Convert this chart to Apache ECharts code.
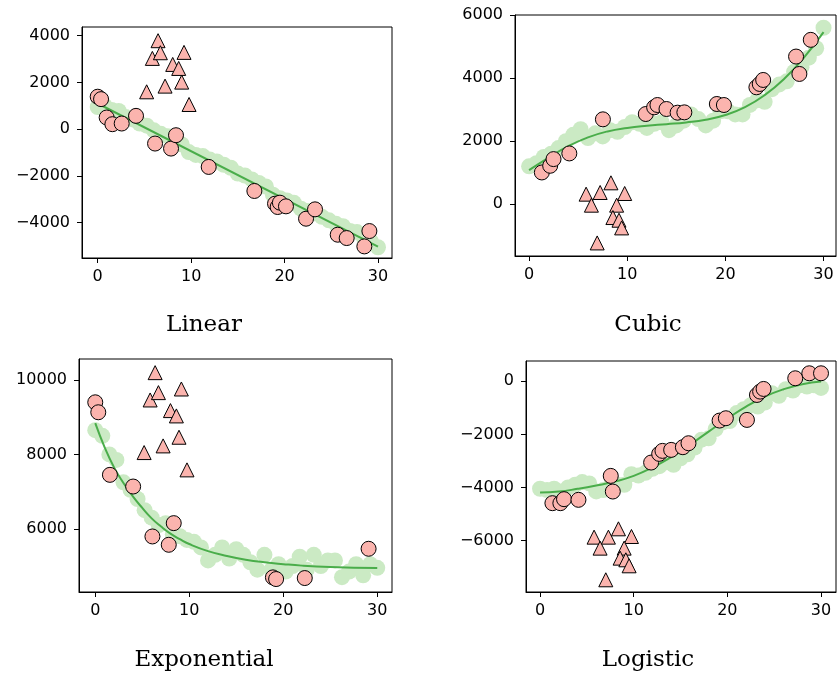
<!DOCTYPE html>
<html>
<head>
<meta charset="utf-8">
<script src="https://cdn.jsdelivr.net/npm/echarts@6/dist/echarts.min.js"></script>
<style>
html,body{margin:0;padding:0;background:#fff;}
#main{width:837px;height:673px;}
</style>
</head>
<body>
<div id="main"></div>
<script>
// ---------- data ----------
const titles = ['Linear', 'Cubic', 'Exponential', 'Logistic'];
const xTicks = [0, 10, 20, 30];
const linYTicks = [-4000, -2000, 0, 2000, 4000];
const cubYTicks = [0, 2000, 4000, 6000];
const expYTicks = [6000, 8000, 10000];
const logYTicks = [-6000, -4000, -2000, 0];

// light green band (noisy samples)
const bandX = [0,0.75,1.5,2.25,3,3.75,4.5,5.25,6,6.75,7.5,8.25,9,9.75,10.5,11.25,12,12.75,13.5,14.25,15,15.75,16.5,17.25,18,18.75,19.5,20.25,21,21.75,22.5,23.25,24,24.75,25.5,26.25,27,27.75,28.5,29.25,30];
const linBandY = [950,1000,820,780,520,420,240,150,-50,-200,-300,-520,-650,-980,-1100,-1150,-1300,-1380,-1520,-1650,-1900,-1980,-2150,-2300,-2450,-2800,-2950,-3050,-3150,-3400,-3500,-3600,-3750,-3900,-4050,-4150,-4350,-4400,-4650,-4800,-5050];
const cubBandY = [1200,1300,1500,1600,1780,2000,2200,2380,2100,2250,2150,2350,2300,2450,2600,2550,2420,2550,2600,2350,2500,2650,2850,2700,2500,2650,2950,2950,2850,2850,3150,3300,3250,3650,3800,3900,4200,4350,4650,4950,5600];
const expBandY = [8650,8500,8000,7850,7250,7050,6800,6500,6300,6100,6150,5850,5800,5700,5650,5500,5150,5300,5500,5200,5450,5300,5100,4900,5300,4900,5050,4850,5000,5250,4900,5300,5000,5150,5150,4700,4850,5050,4750,5050,4950];
const logBandY = [-4050,-4100,-4050,-4150,-4000,-3900,-3800,-3850,-4150,-4100,-3950,-3900,-3900,-3500,-3550,-3450,-3300,-3200,-3050,-3150,-2900,-2750,-2500,-2200,-2150,-1800,-1550,-1500,-1200,-1050,-900,-950,-800,-450,-550,-300,-350,-150,-200,-150,-250];

// fitted curves
const linLineX = [0, 30];
const linLineY = [1100, -5020];
const cubLineX = [0,2,4,6,8,10,12,14,16,18,20,22,24,26,28,30];
const cubLineY = [1081,1480,1840,2120,2310,2420,2490,2540,2595,2680,2830,3080,3460,3980,4650,5460];
const expLineX = [0,1,2,3,4,5,6,7,8,9,10,12,14,16,18,20,22,25,30];
const expLineY = [8840,8190,7650,7230,6870,6560,6280,6060,5870,5720,5590,5400,5270,5170,5100,5050,5010,4975,4945];
const logLineX = [0,2,4,6,8,10,12,14,16,18,20,22,24,26,28,30];
const logLineY = [-4190,-4155,-4054,-3929,-3778,-3565,-3251,-2862,-2397,-1895,-1406,-954,-577,-301,-113,-13];

// circles
const linCircX = [0,0.36,0.96,1.57,2.57,4.1,6.14,7.85,8.38,11.88,16.77,18.98,19.26,19.5,20.15,22.3,23.26,25.69,26.65,28.54,29.08];
const linCircY = [1390,1286,500,214,243,571,-614,-829,-257,-1614,-2643,-3186,-3329,-3143,-3300,-3829,-3429,-4514,-4657,-5014,-4357];
const cubCircX = [1.3,2.15,2.49,4.1,7.52,11.89,12.74,13.08,14.0,15.13,15.82,19.13,19.85,23.16,23.5,23.85,27.2,27.54,28.7];
const cubCircY = [1007,1219,1431,1611,2693,2862,3074,3148,3021,2905,2915,3180,3148,3710,3816,3943,4686,4134,5216];
const expCircX = [0,0.32,1.56,4.03,6.08,7.82,8.35,18.9,19.24,22.29,29.08];
const expCircY = [9400,9132,7450,7136,5794,5570,6152,4694,4649,4676,5463];
const logCircX = [1.32,2.17,2.56,4.1,7.55,7.77,11.86,12.72,13.07,14.0,15.25,15.85,19.17,19.84,22.09,23.16,23.5,23.87,27.25,28.75,30.0];
const logCircY = [-4594,-4594,-4443,-4468,-3565,-4155,-3063,-2736,-2623,-2586,-2485,-2335,-1481,-1393,-1456,-515,-389,-289,113,301,301];

// triangles
const linTriX = [5.24,5.85,6.46,6.71,7.21,8.03,8.67,8.99,9.24,9.78];
const linTriY = [1600,3029,3786,3271,1843,2771,2600,2014,3286,1057];
const cubTriX = [5.81,6.35,7.24,8.34,9.74,8.92,8.54,9.16,9.43,6.94];
const cubTriY = [318,-32,371,678,339,-32,-424,-509,-753,-1230];
const expTriX = [5.2,5.84,6.37,6.72,7.22,8.0,8.63,8.91,9.16,9.76];
const expTriY = [8049,9463,10197,9660,8228,9177,9034,8461,9758,7584];
const logTriX = [5.77,6.41,7.3,8.37,9.76,8.98,8.55,9.16,9.51,7.02];
const logTriY = [-5874,-6288,-5874,-5560,-5849,-6288,-6665,-6728,-6954,-7481];

// ---------- layout ----------
const panels = [
  {grid:{left:82,top:27,width:310,height:231}, x:[-1.68,31.5], y:[-5510,4372], yt:linYTicks,
   band:linBandY, lx:linLineX, ly:linLineY, cx:linCircX, cy:linCircY, tx:linTriX, ty:linTriY, title:[204,325]},
  {grid:{left:515,top:15,width:321,height:241}, x:[-1.435,31.27], y:[-1645,6005], yt:cubYTicks,
   band:cubBandY, lx:cubLineX, ly:cubLineY, cx:cubCircX, cy:cubCircY, tx:cubTriX, ty:cubTriY, title:[648,325]},
  {grid:{left:79,top:359,width:313,height:233}, x:[-1.73,31.57], y:[4301,10564], yt:expYTicks,
   band:expBandY, lx:expLineX, ly:expLineY, cx:expCircX, cy:expCircY, tx:expTriX, ty:expTriY, title:[204,660]},
  {grid:{left:526,top:361,width:310,height:231}, x:[-1.5,31.6], y:[-7941,764], yt:logYTicks,
   band:logBandY, lx:logLineX, ly:logLineY, cx:logCircX, cy:logCircY, tx:logTriX, ty:logTriY, title:[648,660]}
];

const zip = (a, b) => a.map((v, i) => [v, b[i]]);
const tickFont = {fontFamily:'DejaVu Sans', fontSize:16, color:'#000'};

const option = {animation:false, grid:[], xAxis:[], yAxis:[], series:[], graphic:[]};
panels.forEach((p, i) => {
  option.grid.push(Object.assign({show:true, borderColor:'#000', borderWidth:1, backgroundColor:'#fff'}, p.grid));
  option.xAxis.push({
    type:'value', gridIndex:i, min:p.x[0], max:p.x[1],
    axisLine:{show:true, onZero:false, lineStyle:{color:'#000', width:1}},
    axisTick:{show:true, length:5, lineStyle:{color:'#000', width:1}, customValues:xTicks},
    axisLabel:Object.assign({margin:11, customValues:xTicks, formatter:v => String(v).replace('-', '\u2212')}, tickFont),
    splitLine:{show:false}
  });
  option.yAxis.push({
    type:'value', gridIndex:i, min:p.y[0], max:p.y[1],
    axisLine:{show:true, onZero:false, lineStyle:{color:'#000', width:1}},
    axisTick:{show:true, length:5, lineStyle:{color:'#000', width:1}, customValues:p.yt},
    axisLabel:Object.assign({margin:12, customValues:p.yt, formatter:v => String(v).replace('-', '\u2212')}, tickFont),
    splitLine:{show:false}
  });
  option.series.push({
    type:'scatter', xAxisIndex:i, yAxisIndex:i, data:zip(bandX, p.band),
    symbol:'circle', symbolSize:16, itemStyle:{color:'#cbeac4', opacity:1}, silent:true, z:1
  });
  option.series.push({
    type:'line', xAxisIndex:i, yAxisIndex:i, data:zip(p.lx, p.ly), smooth:true,
    showSymbol:false, symbol:'none', lineStyle:{color:'#4aad4a', width:2}, silent:true, z:2
  });
  option.series.push({
    type:'scatter', xAxisIndex:i, yAxisIndex:i, data:zip(p.cx, p.cy),
    symbol:'circle', symbolSize:15, itemStyle:{color:'#fbb4ae', borderColor:'#000', borderWidth:1, opacity:1}, z:3
  });
  option.series.push({
    type:'scatter', xAxisIndex:i, yAxisIndex:i, data:zip(p.tx, p.ty),
    symbol:'triangle', symbolSize:14, itemStyle:{color:'#fbb4ae', borderColor:'#000', borderWidth:1, opacity:1}, z:3
  });
  option.graphic.push({
    type:'text', x:p.title[0], y:p.title[1],
    style:{text:titles[i], font:'23px "DejaVu Serif"', fill:'#000', textAlign:'center', textVerticalAlign:'middle'}
  });
});

const chart = echarts.init(document.getElementById('main'), null, {renderer:'canvas'});
chart.setOption(option);
</script>
</body>
</html>
